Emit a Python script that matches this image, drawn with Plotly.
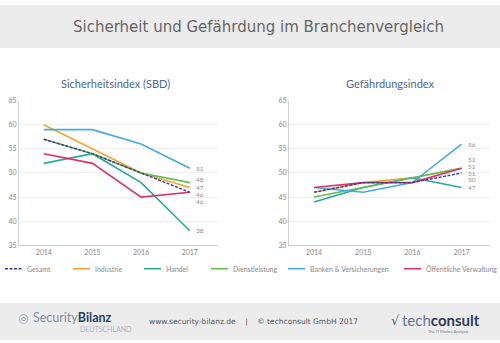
import plotly.graph_objects as go

years = [2014, 2015, 2016, 2017]
series_names = ["Gesamt", "Industrie", "Handel", "Dienstleistung",
                "Banken & Versicherungen", "Öffentliche Verwaltung"]

# Sicherheitsindex (SBD)
sbd_gesamt = [57, 54, 50, 46]
sbd_industrie = [60, 55, 50, 47]
sbd_handel = [52, 54, 48, 38]
sbd_dienst = [57, 54, 50, 48]
sbd_banken = [59, 59, 56, 51]
sbd_oeffentlich = [54, 52, 45, 46]

# Gefährdungsindex
gef_gesamt = [46, 48, 48, 50]
gef_industrie = [46, 48, 49, 51]
gef_handel = [44, 47, 49, 47]
gef_dienst = [45, 47, 49, 51]
gef_banken = [47, 46, 48, 56]
gef_oeffentlich = [47, 48, 48, 51]

colors = ["#3a3a8e", "#f4a233", "#2aa89a", "#5fbf4f", "#45acd9", "#d8336a"]

sbd = [sbd_gesamt, sbd_industrie, sbd_handel, sbd_dienst, sbd_banken, sbd_oeffentlich]
gef = [gef_gesamt, gef_industrie, gef_handel, gef_dienst, gef_banken, gef_oeffentlich]

W, H = 500, 343
def py(px):
    return 1 - px / H
def px_(x):
    return x / W

def dash_of(i):
    return "3px,1.5px" if i == 0 else "solid"

fig = go.Figure()

draw_order = [1, 2, 3, 4, 5, 0]  # Gesamt drawn on top
for data, xa, ya in [(sbd, "x", "y"), (gef, "x2", "y2")]:
    for i in draw_order:
        fig.add_trace(go.Scatter(
            x=years, y=data[i], mode="lines", name=series_names[i],
            xaxis=xa, yaxis=ya,
            line=dict(color=colors[i], width=1.6 if i else 1.4, dash=dash_of(i)),
            showlegend=False, hoverinfo="skip",
        ))

ann = []
shapes = [
    dict(type="rect", xref="paper", yref="paper", x0=0, x1=1, y0=py(44), y1=1,
         fillcolor="#ececec", line=dict(width=0), layer="below"),
    dict(type="rect", xref="paper", yref="paper", x0=0, x1=1, y0=0, y1=py(305),
         fillcolor="#ececec", line=dict(width=0), layer="below"),
]

# end-value labels (nudged apart where values coincide)
sbd_shift = {0: -2, 1: 0, 2: 0, 3: 3, 4: 0, 5: -9}
gef_shift = {0: -7, 1: 9, 2: 0, 3: 2, 4: 0, 5: -5}
for data, shifts, xr, yr in [(sbd, sbd_shift, "x", "y"), (gef, gef_shift, "x2", "y2")]:
    for i in range(6):
        ann.append(dict(x=years[-1], y=data[i][-1], xref=xr, yref=yr,
                        text=str(data[i][-1]), showarrow=False, borderpad=0,
                        xanchor="left", yanchor="middle", xshift=5, yshift=shifts[i],
                        font=dict(size=6.5, color="#8a8a8a", family="Lato")))

def text(x, y, t, size, color, family="Lato", xanchor="center"):
    ann.append(dict(x=px_(x), y=py(y), xref="paper", yref="paper", text=t,
                    showarrow=False, xanchor=xanchor, yanchor="middle",
                    font=dict(size=size, color=color, family=family)))

# subplot titles
text(115, 80, "Sicherheitsindex (SBD)", 11, "#4d6a8c")
text(390, 80, "Gefährdungsindex", 11, "#4d6a8c")

# header title
text(258, 23, "Sicherheit und Gefährdung im Branchenvergleich", 15, "#666666", "DejaVu Sans")

# legend (manual, single row)
legend_x = [5, 73, 144, 211, 288, 404]
for i, lx in enumerate(legend_x):
    shapes.append(dict(type="line", xref="paper", yref="paper",
                       x0=px_(lx), x1=px_(lx + 17), y0=py(270), y1=py(270),
                       line=dict(color=colors[i], width=1.6 if i else 1.4, dash=dash_of(i))))
    text(lx + 20, 270, series_names[i], 7, "#888888", "Lato", "left")

# footer
text(253, 324, "www.security-bilanz.de&nbsp;&nbsp;&nbsp;&nbsp;|&nbsp;&nbsp;&nbsp;&nbsp;© techconsult GmbH 2017",
     7.5, "#555555", "DejaVu Sans")
text(31, 320, "<span style='color:#8090a8'>Security</span><b style='color:#2e3f63'>Bilanz</b>",
     12.5, "#2e3f63", "Lato", "left")
text(133, 332, "DEUTSCHLAND", 7, "#b0b4bc", "Lato", "right")
text(23, 320, "◎", 12, "#9aa4b4", "DejaVu Sans")
text(400, 323, "<span style='color:#6b7890'>tech</span><b style='color:#2c3d60'>consult</b>",
     15, "#2c3d60", "Lato", "left")
text(395, 323, "<i>√</i>", 13, "#4a5a78", "DejaVu Sans")
text(448, 334, "The IT Market Analysts", 4, "#6b7890")

axis_common = dict(
    range=[2013.49, 2017.58], tickvals=years, showgrid=False,
    showline=True, linecolor="#d0d0d0", linewidth=1, ticks="",
    tickfont=dict(size=7, color="#888888", family="Lato"), zeroline=False,
)
yaxis_common = dict(
    range=[35, 65], dtick=5, showgrid=True, gridcolor="#f0f0f0", gridwidth=1,
    showline=True, linecolor="#d0d0d0", linewidth=1, ticks="",
    tickfont=dict(size=7, color="#888888", family="Lato"), zeroline=False,
)

fig.update_layout(
    width=W, height=H, margin=dict(l=0, r=0, t=0, b=0),
    paper_bgcolor="white", plot_bgcolor="white",
    xaxis=dict(domain=[px_(19), px_(218)], anchor="y", **axis_common),
    yaxis=dict(domain=[py(246), py(98)], anchor="x", **yaxis_common),
    xaxis2=dict(domain=[px_(289), px_(490)], anchor="y2", **axis_common),
    yaxis2=dict(domain=[py(246), py(98)], anchor="x2", **yaxis_common),
    annotations=ann, shapes=shapes, showlegend=False,
)

fig.write_html("out.html")
